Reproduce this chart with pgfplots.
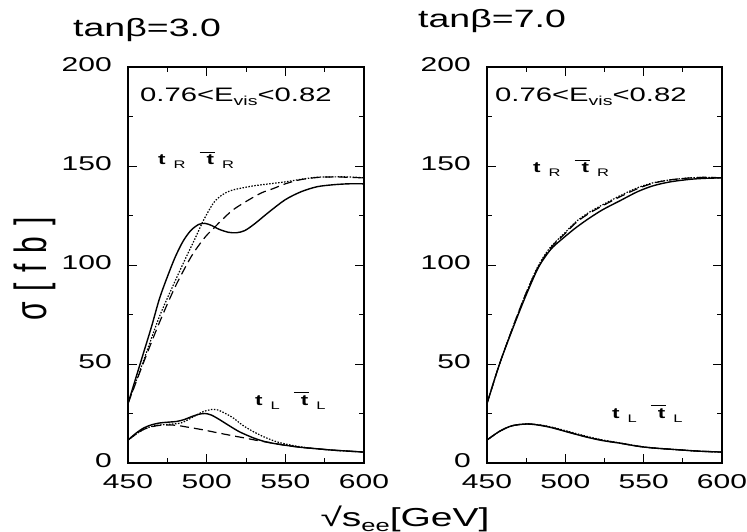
\documentclass[border=0pt]{standalone}
\usepackage{fontspec}
\setmainfont{Liberation Sans}[FakeStretch=1.5]
\usepackage{pgfplots}
\pgfplotsset{compat=1.18}
\newcommand\fs[1]{\fontsize{#1}{#1}\selectfont}
\newcommand\tb{\rule[12.5pt]{15pt}{0.8pt}\hspace{-8pt}\textbf{t}}
\pgfplotsset{
  panel/.style={
    scale only axis, width=236pt, height=396pt,
    xmin=450, xmax=600, ymin=0, ymax=200,
    xtick={450,500,550,600}, ytick={0,50,100,150,200},
    minor x tick num=1, minor y tick num=1,
    major tick length=9pt, minor tick length=5pt,
    tick align=inside, tick pos=both,
    axis line style={line width=1.2pt},
    every tick/.style={line width=1pt, black},
    /pgf/number format/assume math mode=true,
    tick label style={font=\fs{20}, inner sep=1pt},
    yticklabel style={xshift=-15pt, yshift=2pt},
    xticklabel style={yshift=-10pt},
    clip=false,
  },
  sol/.style={black, line width=1.4pt, smooth},
  dot/.style={black, line width=1.2pt, dash pattern=on 1.5pt off 1.5pt, smooth},
  dsh/.style={black, line width=1.2pt, dash pattern=on 9pt off 5pt, smooth},
}
\begin{document}
\begin{tikzpicture}
\path[use as bounding box] (0pt,0pt) rectangle (747pt,531pt);
% ---------------- left panel ----------------
\begin{axis}[panel, at={(128pt,68pt)}, anchor=south west]
\addplot[sol] coordinates {(450,30)(455,43)(460,56)(465,69)(470,83)(475,94)(480,104)(485,112)(490,117.5)(495,120.5)(499,121)(503,120)(508,118)(514,116.5)(519,116.3)(524,117.3)(530,120.5)(540,127)(550,133)(560,137)(570,139.5)(580,140.5)(590,141)(600,141)};
\addplot[dot] coordinates {(450,30)(460,52)(470,74)(480,92)(487,104)(493,114)(497,121)(501,127)(505,132)(510,135.5)(515,137.5)(520,138.5)(530,140)(540,141)(550,142)(560,143.3)(570,144.3)(580,144.5)(590,144.5)(600,144)};
\addplot[dsh] coordinates {(450,30)(460,51)(470,71)(480,89)(490,104)(496,111)(500,115)(505,119)(510,123)(517,128)(527,133)(535,136.5)(542,138.5)(550,141)(559,143)(570,144.2)(580,144.5)(590,144.3)(600,144)};
\addplot[sol] coordinates {(450,11.6)(455,15)(460,17.7)(465,19.3)(470,20.2)(475,20.6)(481,21)(486,22)(490,23.3)(495,24.6)(499,25)(503,24.2)(508,22)(514,19)(521,15.7)(530,12.6)(538,10.6)(548,9.2)(559,8)(570,7.2)(580,6.5)(590,6)(600,5.5)};
\addplot[dot] coordinates {(450,11.6)(455,14.5)(460,17)(465,18.5)(470,19.2)(475,19.5)(480,19.8)(484,20.3)(488,21.8)(493,24)(498,26)(503,27)(507,26.8)(512,25)(517,22.7)(523,19)(530,15.7)(537,13)(545,10.6)(555,8.8)(565,7.6)(575,6.8)(590,6)(600,5.5)};
\addplot[dsh] coordinates {(450,11.6)(455,14.5)(460,17)(465,18.3)(470,19)(476,19.2)(481,19)(488,18.1)(496,17)(503,15.9)(508.5,15)(517,13.7)(525,12.5)(532,11.4)(538,10.6)(548,9.2)(559,8)(570,7.2)(580,6.5)(590,6)(600,5.5)};
\end{axis}
% ---------------- right panel ----------------
\begin{axis}[panel, width=235pt, at={(487pt,68pt)}, anchor=south west]
\addplot[sol] coordinates {(450,30)(458,50)(466,67)(474,83)(482,97.5)(487,104)(492,109)(500,114.5)(507,119)(515,123.5)(524,128)(535,132.5)(546,137)(556,140)(567,142)(580,143.3)(590,143.8)(600,144)};
\addplot[dot] coordinates {(450,30)(458,50)(466,67.5)(474,84)(482,98.5)(490,108.5)(500,116.5)(507,122)(515,126.5)(524,130.5)(535,135)(546,139)(556,141.5)(567,143)(580,144)(590,144.2)(600,144)};
\addplot[dsh] coordinates {(450,30)(458,50)(466,67.5)(474,84)(482,98)(490,108)(500,116)(507,121.5)(515,126)(524,130)(535,134.5)(546,138.5)(556,141.3)(567,143)(580,144)(590,144.3)(600,144)};
\addplot[sol] coordinates {(450,11.6)(458,16)(466,18.8)(475.5,19.7)(484,19)(492,17.7)(503,15.3)(514,13)(524,11.3)(535,10)(546,8.5)(556,7.6)(570,6.8)(585,6)(600,5.5)};
\addplot[dot] coordinates {(450,11.6)(458,16)(466,18.8)(475.5,19.8)(484,19.2)(492,18)(503,15.7)(514,13.4)(524,11.6)(535,10.1)(546,8.6)(556,7.6)(570,6.8)(585,6)(600,5.5)};
\addplot[dsh] coordinates {(450,11.6)(458,16)(466,18.8)(475.5,19.7)(484,19.1)(492,17.8)(503,15.4)(514,13.1)(524,11.4)(535,10)(546,8.5)(556,7.6)(570,6.8)(585,6)(600,5.5)};
\end{axis}
% ---------------- texts ----------------
\node[anchor=base west, inner sep=0pt] at (73pt,494pt) {\fs{25}tanβ=3.0};
\node[anchor=base west, inner sep=0pt] at (418pt,503pt) {\fs{25}tanβ=7.0};
\node[anchor=base west, inner sep=0pt] at (140pt,429pt) {\fs{19.5}0.76<E\raisebox{-4pt}{\fs{13}vis}<0.82};
\node[anchor=base west, inner sep=0pt] at (495pt,429pt) {\fs{19.5}0.76<E\raisebox{-4pt}{\fs{13}vis}<0.82};
\node[anchor=base west, inner sep=0pt] at (158pt,366pt) {\fs{15}\textbf{t}\hspace{8pt}\raisebox{-4pt}{\fs{11}R}\hspace{14pt}\tb\hspace{8pt}\raisebox{-4pt}{\fs{11}R}};
\node[anchor=base west, inner sep=0pt] at (533pt,358pt) {\fs{15}\textbf{t}\hspace{8pt}\raisebox{-4pt}{\fs{11}R}\hspace{14pt}\tb\hspace{8pt}\raisebox{-4pt}{\fs{11}R}};
\node[anchor=base west, inner sep=0pt] at (255pt,126pt) {\fs{15}\textbf{t}\hspace{8pt}\raisebox{-4pt}{\fs{11}L}\hspace{14pt}\tb\hspace{8pt}\raisebox{-4pt}{\fs{11}L}};
\node[anchor=base west, inner sep=0pt] at (612pt,113pt) {\fs{15}\textbf{t}\hspace{8pt}\raisebox{-4pt}{\fs{11}L}\hspace{14pt}\tb\hspace{8pt}\raisebox{-4pt}{\fs{11}L}};
\node[inner sep=0pt] at (35pt,262pt) {\rotatebox{90}{\scalebox{0.667}[1.5]{\fs{30}σ\hspace{16pt}[\hspace{16pt}f\hspace{16pt}b\hspace{16pt}]}}};
\node[anchor=base, inner sep=0pt] at (405pt,5pt) {\fs{26}√s\raisebox{-5pt}{\fs{17}ee}[GeV]};
\end{tikzpicture}
\end{document}
